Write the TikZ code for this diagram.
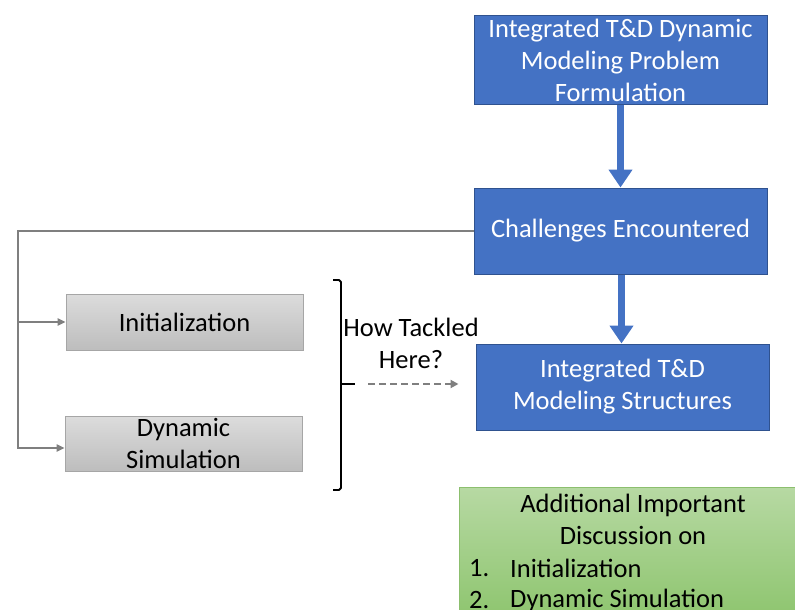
\documentclass[tikz,border=0pt]{standalone}
\usepackage{fontspec}
\setmainfont{Carlito}
\usetikzlibrary{arrows.meta,calc}
\definecolor{bluefill}{HTML}{4472C4}
\definecolor{blueedge}{HTML}{2F528F}
\definecolor{graytop}{HTML}{DCDCDC}
\definecolor{graybot}{HTML}{BDBDBD}
\definecolor{grayedge}{HTML}{A6A6A6}
\definecolor{linegray}{HTML}{7F7F7F}
\definecolor{greentop}{HTML}{B7D9A3}
\definecolor{greenbot}{HTML}{8EC56F}
\definecolor{greenedge}{HTML}{8CBF6E}
\tikzset{
  bluebox/.style={draw=blueedge, line width=1pt, fill=bluefill, text=white, align=center, inner sep=0pt},
  graybox/.style={draw=grayedge, line width=0.8pt, top color=graytop, bottom color=graybot, align=center, inner sep=0pt},
  greenbox/.style={draw=greenedge, line width=0.8pt, top color=greentop, bottom color=greenbot, inner sep=0pt},
  bigarrow/.style={draw=bluefill, line width=7pt, -{Triangle[width=23pt,length=18pt]}},
  grayline/.style={draw=linegray, line width=2.6pt},
  grayarrow/.style={grayline, -{Triangle[width=7pt,length=8pt]}},
  txt/.style={inner sep=0pt, align=center},
  brace/.style={draw=black, line width=1.8pt, line join=round},
  dasharrow/.style={draw=linegray, line width=2pt, dash pattern=on 7pt off 4pt, -{Triangle[width=8pt,length=8pt]}}
}
\begin{document}
\begin{tikzpicture}[x=1pt,y=-1pt]
\fontsize{26.5}{32}\selectfont
\useasboundingbox (0,0) rectangle (795,610);
\begin{scope}
\clip (0,0) rectangle (795,610);
\node[greenbox, minimum width=345pt, minimum height=130pt] (green) at (631.5,552) {};
\end{scope}
\node[bluebox, minimum width=293pt, minimum height=88pt] (top) at (620.5,60) {Integrated T\&D Dynamic\\Modeling Problem\\Formulation};
\node[bluebox, minimum width=293pt, minimum height=86pt] (chal) at (620.5,231) {Challenges Encountered};
\node[bluebox, minimum width=293pt, minimum height=86pt] (struct) at (622.5,387) {Integrated T\&D\\Modeling Structures};
\node[graybox, minimum width=237pt, minimum height=56pt] (init) at (184.5,322) {Initialization};
\node[graybox, minimum width=237pt, minimum height=55pt] (dyn) at (183.5,443.5) {Dynamic\\Simulation};
\node[txt] (how) at (411,343) {How Tackled\\Here?};
\node[txt] (add) at (633,519) {Additional Important\\Discussion on};
\node[txt, anchor=west] (n1) at (469,568) {1.};
\node[txt, anchor=west] (i1) at (510,568) {Initialization};
\node[txt, anchor=west] (n2) at (469,600) {2.};
\node[txt, anchor=west] (i2) at (510,600) {Dynamic Simulation};
\draw[bigarrow] (top.south) -- (chal.north);
\draw[bigarrow] ($(chal.south)+(1,0)$) -- ($(struct.north)-(1,0)$);
\coordinate (lx) at (18,231);
\draw[grayline] (chal.west) -- (lx) -- ($(lx)+(0,218)$);
\draw[grayarrow] (lx |- init.west) -- (init.west);
\draw[grayarrow] ($(lx)+(0,217)$) -- ($(dyn.west)+(0,4.5)$);
\coordinate (brk) at (355,384);
\draw[brace] (333,280) -- (339,280) -- (341,282) -- (341,488) -- (339,490) -- (333,490);
\draw[brace] (341,384) -- (brk);
\draw[dasharrow] ($(brk)+(13,0)$) -- ($(struct.west)+(-17,-3)$);
\end{tikzpicture}
\end{document}
